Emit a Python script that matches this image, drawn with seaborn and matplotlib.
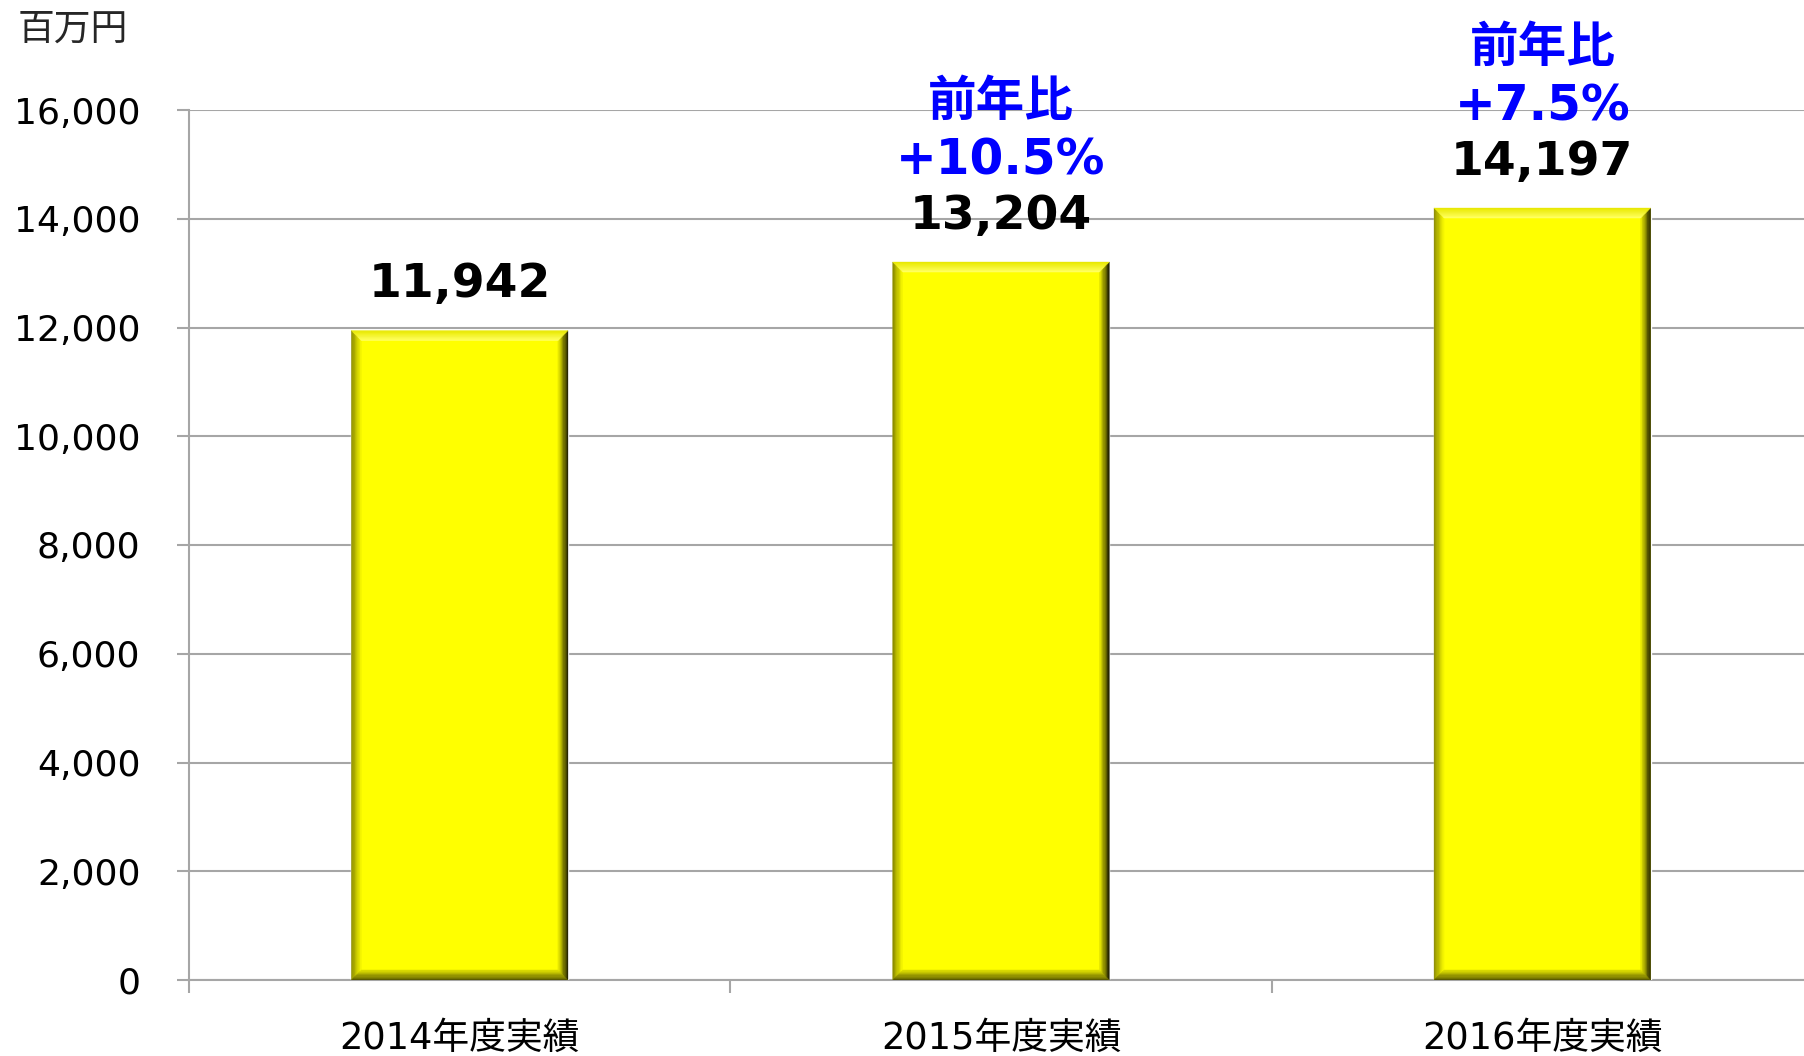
import numpy as np
import pandas as pd
import matplotlib
matplotlib.use('Agg')
import matplotlib.pyplot as plt
from matplotlib.patches import Polygon
from matplotlib.colors import to_rgb
import seaborn as sns

# Data
years = ['2014年度実績', '2015年度実績', '2016年度実績']
sales = [11942, 13204, 14197]
yoy = [None, '+10.5%', '+7.5%']
y_ticks = [0, 2000, 4000, 6000, 8000, 10000, 12000, 14000, 16000]

sns.set_style('white')
# digits in a Verdana-like face, kanji fall back to Noto CJK
plt.rcParams['font.family'] = ['DejaVu Sans', 'Noto Sans CJK JP']

df = pd.DataFrame({'year': years, 'sales': sales})

fig = plt.figure(figsize=(18.04, 10.56), dpi=100)
ax = fig.add_axes([189 / 1804, 76 / 1056, 1624 / 1804, 870 / 1056])

sns.barplot(data=df, x='year', y='sales', color='#ffff00', saturation=1,
            width=0.4, ax=ax, zorder=3)

ax.set_xlim(-0.5, 2.5)
ax.set_ylim(0, 16000)
ax.set_yticks(y_ticks)
ax.set_yticklabels([f'{v:,}' for v in y_ticks])
ax.set_xlabel('')
ax.set_ylabel('')

# grid + spines
ax.yaxis.grid(True, color='#a6a6a6', linewidth=1.5, zorder=0)
ax.set_axisbelow(True)
for s in ['top', 'right']:
    ax.spines[s].set_visible(False)
for s in ['left', 'bottom']:
    ax.spines[s].set_color('#a6a6a6')
    ax.spines[s].set_linewidth(1.5)

ax.tick_params(axis='y', left=True, length=9, width=1.5, color='#a6a6a6',
               labelsize=26, labelcolor='black', pad=26)
ax.tick_params(axis='x', which='major', length=0, labelsize=26.5,
               labelcolor='black', pad=29)
ax.set_xticks([-0.5, 0.5, 1.5], minor=True)
ax.tick_params(axis='x', which='minor', bottom=True, length=9, width=1.5,
               color='#a6a6a6')

# bevel effect on the bars
fig.canvas.draw()
bbox = ax.get_window_extent()
px_x = 3.0 / bbox.width
px_y = 16000 / bbox.height
bev = 10
n = 8
sides = {
    'left': ('#8c8c00', '#f4f400'),
    'right': ('#1e1e00', '#e6e600'),
    'top': ('#e8e800', '#ffff60'),
    'bottom': ('#5a5a00', '#d8d800'),
}
for p in ax.patches[:len(sales)]:
    x0, w, h = p.get_x(), p.get_width(), p.get_height()
    x1 = x0 + w
    for k in range(n):
        a0 = k * bev / n
        a1 = (k + 1) * bev / n
        f = k / (n - 1)
        quads = {
            'left': [(x0 + a0 * px_x, a0 * px_y), (x0 + a1 * px_x, a1 * px_y),
                     (x0 + a1 * px_x, h - a1 * px_y), (x0 + a0 * px_x, h - a0 * px_y)],
            'right': [(x1 - a0 * px_x, a0 * px_y), (x1 - a1 * px_x, a1 * px_y),
                      (x1 - a1 * px_x, h - a1 * px_y), (x1 - a0 * px_x, h - a0 * px_y)],
            'top': [(x0 + a0 * px_x, h - a0 * px_y), (x0 + a1 * px_x, h - a1 * px_y),
                    (x1 - a1 * px_x, h - a1 * px_y), (x1 - a0 * px_x, h - a0 * px_y)],
            'bottom': [(x0 + a0 * px_x, a0 * px_y), (x0 + a1 * px_x, a1 * px_y),
                       (x1 - a1 * px_x, a1 * px_y), (x1 - a0 * px_x, a0 * px_y)],
        }
        for side, pts in quads.items():
            c_out = np.array(to_rgb(sides[side][0]))
            c_in = np.array(to_rgb(sides[side][1]))
            c = c_out * (1 - f) + c_in * f
            ax.add_patch(Polygon(pts, closed=True, facecolor=c, edgecolor=c,
                                 linewidth=0.3, zorder=4))

# labels above the bars
for i, p in enumerate(ax.patches[:len(sales)]):
    cx = p.get_x() + p.get_width() / 2
    h = p.get_height()
    ax.annotate(f'{sales[i]:,}', (cx, h), xytext=(0, 33), textcoords='offset points',
                ha='center', va='center', fontsize=34, fontweight='bold',
                color='black', zorder=5)
    if yoy[i]:
        ax.annotate(yoy[i], (cx, h), xytext=(0, 73), textcoords='offset points',
                    ha='center', va='center', fontsize=35, fontweight='bold',
                    color='#0000ff', zorder=5)
        ax.annotate('前年比', (cx, h), xytext=(0, 115), textcoords='offset points',
                    ha='center', va='center', fontsize=35, fontweight='bold',
                    color='#0000ff', zorder=5)

fig.text(18 / 1804, 1 - 29 / 1056, '百万円', ha='left', va='center', fontsize=26.5)

plt.savefig('out.png', dpi=100)
plt.close()
